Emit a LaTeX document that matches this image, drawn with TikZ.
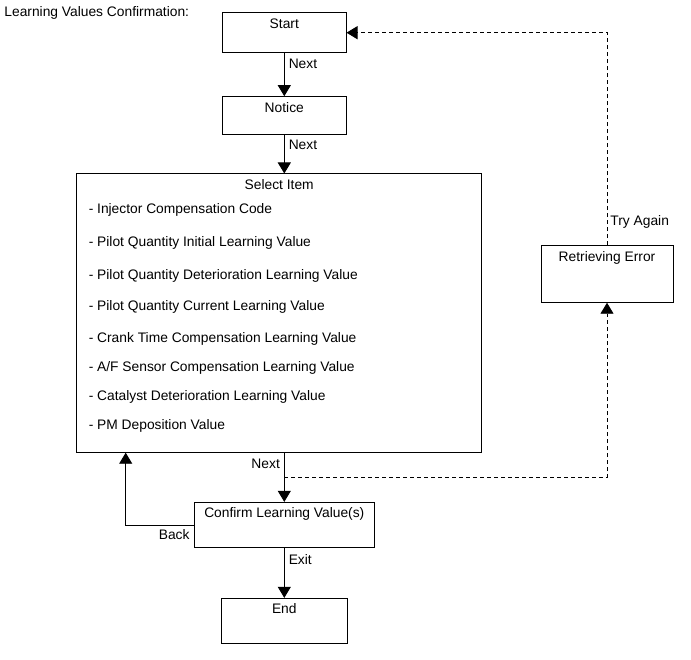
\documentclass[tikz,border=0pt]{standalone}
\usepackage{fontspec}
\setmainfont{Liberation Sans}
\usetikzlibrary{positioning,arrows.meta,calc}

\begin{document}
\begin{tikzpicture}[
    x=1pt, y=-1pt,
    font=\fontsize{13.8}{16}\selectfont,
    line width=0.9pt,
    box/.style={draw, rectangle, inner sep=0pt},
    ttl/.style={anchor=north, inner sep=0pt, yshift=-5.5pt,
                text height=10pt, text depth=3pt},
    item/.style={anchor=west, inner sep=0pt},
    op/.style={-{Triangle[length=11pt, width=13pt]}},
    dop/.style={op, dash pattern=on 4pt off 3pt},
    lbl/.style={inner sep=4pt},
  ]
  \useasboundingbox (0,0) rectangle (691,660);

  \node[anchor=west, inner sep=0pt] (title) at (4,13) {Learning Values Confirmation:};

  % --- Main column ---
  \node[box, minimum width=123.5, minimum height=40,
        label={[ttl]north:Start}] (start) at (284.3,32.7) {};
  \node[box, minimum width=123.5, minimum height=38.3,
        label={[ttl]north:Notice}] (notice) at (284.3,115.8) {};
  \node[box, minimum width=405, minimum height=278.7,
        label={[ttl]north:Select Item}] (select) at (279.2,313.3) {};
  \node[box, minimum width=179.7, minimum height=45.4,
        label={[ttl]north:Confirm Learning Value(s)}] (confirm) at (284.3,525) {};
  \node[box, minimum width=126.6, minimum height=45,
        label={[ttl]north:End}] (end) at (284.3,620.8) {};

  % --- Items of the select box ---
  \foreach \y/\txt [count=\i] in {
      210/Injector Compensation Code,
      242.7/Pilot Quantity Initial Learning Value,
      276/Pilot Quantity Deterioration Learning Value,
      307.3/Pilot Quantity Current Learning Value,
      339.3/Crank Time Compensation Learning Value,
      368.3/{A/F Sensor Compensation Learning Value},
      396.7/Catalyst Deterioration Learning Value,
      425.7/PM Deposition Value}
    \node[item] (item\i) at (88.3,\y) {- \txt};

  % --- Error box (right) ---
  \node[box, minimum width=132, minimum height=56.6,
        label={[ttl]north:Retrieving Error}] (retr) at (607,274) {};

  % --- Connectors ---
  \draw[op] (start) -- (notice) node[lbl, pos=0.24, anchor=west] {Next};
  \draw[op] (notice.south) -- (notice.south |- select.north)
    node[lbl, pos=0.24, anchor=west] {Next};
  \draw[op] (confirm.north |- select.south) -- (confirm.north)
    node[lbl, pos=0.21, anchor=east] {Next};
  \draw[op] (confirm) -- (end) node[lbl, pos=0.22, anchor=west] {Exit};

  \coordinate (backup) at (125.7,452.7);
  \draw[op] (confirm.west) -| (backup);
  \node[lbl, anchor=north east] (back) at (confirm.west) {Back};

  \coordinate (split) at (284.3,477.3);
  \draw[dop] (split) -| (retr.south);
  \draw[dop] (retr.north) |- (start.east)
    node[lbl, pos=0.055, anchor=west, inner sep=3pt] {Try Again};
\end{tikzpicture}
\end{document}
